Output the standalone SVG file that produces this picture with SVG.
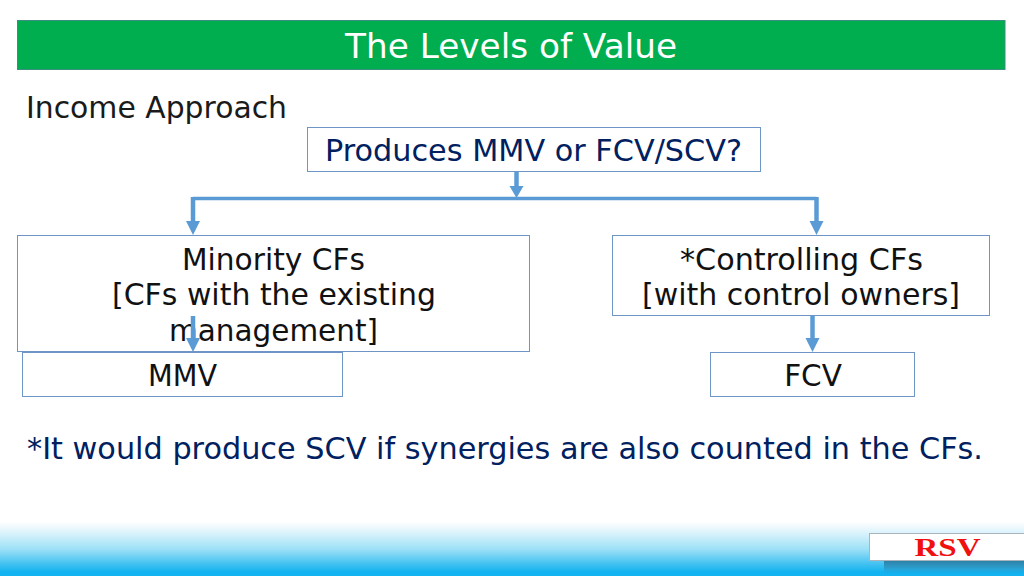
<svg xmlns="http://www.w3.org/2000/svg" width="1024" height="576" viewBox="0 0 1024 576">
<style>
text{font-family:"DejaVu Sans","Liberation Sans",sans-serif;text-anchor:middle}
.b{fill:#fff;stroke:#6f94c6;stroke-width:1}
.t{font-size:29.5px;fill:#111}
.n{font-size:29.5px;fill:#002060}
.c{fill:none;stroke:#5b9bd5;stroke-width:4.5}
.l{fill:none;stroke:#5b9bd5;stroke-width:3.5}
.h{fill:#5b9bd5}
</style>
<defs>
<linearGradient id="g" x1="0" y1="0" x2="0" y2="1">
<stop offset="0" stop-color="#fff"/><stop offset=".25" stop-color="#d5f1fb"/><stop offset=".55" stop-color="#9be0f7"/><stop offset=".85" stop-color="#3fc0f0"/><stop offset="1" stop-color="#12b3f0"/>
</linearGradient>
<linearGradient id="s" x1="0" y1="0" x2="0" y2="1">
<stop offset="0" stop-color="#2a7ca3"/><stop offset=".5" stop-color="#2a8cb8" stop-opacity=".75"/><stop offset="1" stop-color="#2a9ccc" stop-opacity="0"/>
</linearGradient>
</defs>
<rect x="0" y="522" width="1024" height="50" fill="url(#g)"/>
<rect x="0" y="571" width="1024" height="5" fill="#12b3f0"/>
<rect x="884" y="560" width="140" height="14" fill="url(#s)"/>
<g id="footer-logo">
<rect x="869.500" y="533.500" width="155" height="27" fill="#fff" stroke="#a9b4bc"/>
<text x="947.500" y="556" style="font-family:'Liberation Serif',serif;font-size:26px;font-weight:bold;fill:#f01010" textLength="66" lengthAdjust="spacingAndGlyphs">RSV</text>
</g>
<g id="title">
<rect x="17.500" y="20.500" width="987.500" height="49" fill="#00ae50" stroke="#3a8f80"/>
<text x="511" y="58" style="font-size:33px;fill:#fff" textLength="332" lengthAdjust="spacingAndGlyphs">The Levels of Value</text>
</g>
<g id="heading"><text x="156.500" y="118" class="t" style="fill:#1a1a1a" textLength="261" lengthAdjust="spacingAndGlyphs">Income Approach</text></g>
<g id="footnote"><text x="505" y="459" class="n" textLength="956" lengthAdjust="spacingAndGlyphs">*It would produce SCV if synergies are also counted in the CFs.</text></g>
<g id="root">
<rect class="b" x="307.500" y="127.500" width="453" height="44"/>
<text x="533.500" y="160.500" class="n" textLength="417" lengthAdjust="spacingAndGlyphs">Produces MMV or FCV/SCV?</text>
</g>
<g id="minority">
<rect class="b" x="17.500" y="235.500" width="512" height="116"/>
<text x="273.500" y="269.500" class="t" textLength="183" lengthAdjust="spacingAndGlyphs">Minority CFs</text>
<text x="274" y="305" class="t" textLength="324" lengthAdjust="spacingAndGlyphs">[CFs with the existing</text>
<text x="273.500" y="340.500" class="t" textLength="209" lengthAdjust="spacingAndGlyphs">management]</text>
</g>
<g id="controlling">
<rect class="b" x="612.500" y="235.500" width="377" height="80"/>
<text x="801.500" y="269.500" class="t" textLength="243" lengthAdjust="spacingAndGlyphs">*Controlling CFs</text>
<text x="801" y="305" class="t" textLength="318" lengthAdjust="spacingAndGlyphs">[with control owners]</text>
</g>
<g id="mmv">
<rect class="b" x="22.500" y="352.500" width="320" height="44"/>
<text x="182.500" y="386" class="t" textLength="69" lengthAdjust="spacingAndGlyphs">MMV</text>
</g>
<g id="fcv">
<rect class="b" x="710.500" y="352.500" width="204" height="44"/>
<text x="813" y="386" class="t">FCV</text>
</g>
<g id="connectors">
<path class="c" d="M516.500 172V188"/>
<path class="h" d="M509.500 186H523.500L516.500 198Z"/>
<path class="l" d="M193 198.500H816.500"/>
<path class="c" d="M193 222V197"/>
<path class="c" d="M816.500 222V197"/>
<path class="h" d="M186 221H200L193 235Z"/>
<path class="h" d="M809.500 221H823.500L816.500 235Z"/>
<path class="c" d="M812.500 316V339"/>
<path class="h" d="M805.500 338H819.500L812.500 352Z"/>
<path class="c" d="M193 316V338"/>
<path class="h" d="M186 338H200L193 352Z"/>
</g>
</svg>
